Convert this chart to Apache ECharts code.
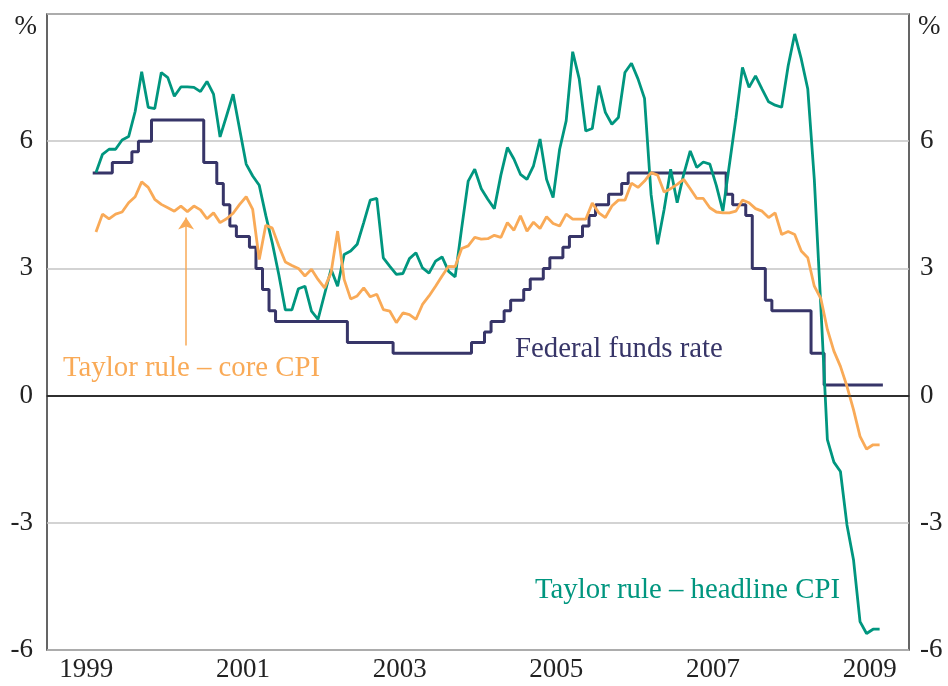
<!DOCTYPE html>
<html>
<head>
<meta charset="utf-8">
<script src="https://cdn.jsdelivr.net/npm/echarts@6/dist/echarts.min.js"></script>
<style>
  html, body { margin: 0; padding: 0; background: #fff; }
  #chart { width: 948px; height: 686px; }
</style>
</head>
<body>
<div id="chart"></div>
<script>
// months are counted from January 1999; the series start in August 1999
var firstMonth = 7;
var years = ['1999', '2000', '2001', '2002', '2003', '2004', '2005', '2006', '2007', '2008', '2009'];

// Taylor rule - headline CPI, monthly, Aug 1999 - Aug 2009
var headline = [
  5.26, 5.69, 5.81, 5.81, 6.03,
  6.11, 6.70, 7.64, 6.80, 6.77, 7.62, 7.50, 7.06, 7.28, 7.28, 7.27, 7.17,
  7.41, 7.11, 6.10, 6.60, 7.11, 6.28, 5.46, 5.18, 4.96, 4.25, 3.60, 2.85,
  2.02, 2.02, 2.52, 2.58, 1.99, 1.80, 2.39, 2.98, 2.58, 3.33, 3.41, 3.57,
  4.08, 4.61, 4.65, 3.25, 3.05, 2.86, 2.88, 3.23, 3.37, 3.01, 2.89, 3.17,
  3.27, 2.93, 2.80, 3.95, 5.06, 5.34, 4.88, 4.63, 4.41, 5.20, 5.85, 5.58,
  5.22, 5.10, 5.42, 6.05, 5.10, 4.67, 5.81, 6.48, 8.11, 7.47, 6.24, 6.30,
  7.31, 6.68, 6.40, 6.56, 7.62, 7.84, 7.47, 7.01, 4.75, 3.57, 4.39, 5.34,
  4.55, 5.22, 5.77, 5.38, 5.51, 5.46, 4.95, 4.35, 5.45, 6.55, 7.74, 7.27,
  7.54, 7.23, 6.93, 6.85, 6.80, 7.78, 8.53, 7.94, 7.23, 5.10, 2.10, -1.04,
  -1.57, -1.79, -3.05, -3.87, -5.33, -5.61, -5.51, -5.51
];

// Taylor rule - core CPI
var core = [
  3.86, 4.28, 4.17, 4.28, 4.33,
  4.55, 4.69, 5.04, 4.91, 4.63, 4.51, 4.43, 4.35, 4.47, 4.34, 4.47, 4.38,
  4.17, 4.31, 4.08, 4.17, 4.30, 4.51, 4.69, 4.39, 3.21, 4.02, 3.95, 3.53,
  3.15, 3.07, 3.00, 2.82, 2.98, 2.74, 2.54, 2.90, 3.88, 2.74, 2.28, 2.35,
  2.54, 2.33, 2.39, 2.03, 1.99, 1.72, 1.95, 1.91, 1.80, 2.15, 2.35, 2.58,
  2.82, 3.05, 3.04, 3.47, 3.53, 3.73, 3.69, 3.70, 3.78, 3.73, 4.08, 3.90,
  4.24, 3.88, 4.09, 3.94, 4.22, 4.06, 4.00, 4.28, 4.16, 4.16, 4.16, 4.54,
  4.31, 4.20, 4.47, 4.61, 4.61, 5.01, 4.91, 5.06, 5.26, 5.20, 4.80, 4.88,
  4.98, 5.10, 4.88, 4.65, 4.65, 4.43, 4.33, 4.31, 4.31, 4.35, 4.61, 4.55,
  4.41, 4.35, 4.20, 4.31, 3.80, 3.87, 3.80, 3.41, 3.25, 2.58, 2.29, 1.56,
  1.05, 0.69, 0.22, -0.33, -0.96, -1.26, -1.16, -1.16
];

// Federal funds target rate, end of month
var fedFunds = [
  5.25, 5.25, 5.25, 5.5, 5.5,
  5.5, 5.75, 6.0, 6.0, 6.5, 6.5, 6.5, 6.5, 6.5, 6.5, 6.5, 6.5,
  5.5, 5.5, 5.0, 4.5, 4.0, 3.75, 3.75, 3.5, 3.0, 2.5, 2.0, 1.75,
  1.75, 1.75, 1.75, 1.75, 1.75, 1.75, 1.75, 1.75, 1.75, 1.75, 1.25, 1.25,
  1.25, 1.25, 1.25, 1.25, 1.25, 1.0, 1.0, 1.0, 1.0, 1.0, 1.0, 1.0,
  1.0, 1.0, 1.0, 1.0, 1.0, 1.25, 1.25, 1.5, 1.75, 1.75, 2.0, 2.25,
  2.25, 2.5, 2.75, 2.75, 3.0, 3.25, 3.25, 3.5, 3.75, 3.75, 4.0, 4.25,
  4.5, 4.5, 4.75, 4.75, 5.0, 5.25, 5.25, 5.25, 5.25, 5.25, 5.25, 5.25,
  5.25, 5.25, 5.25, 5.25, 5.25, 5.25, 5.25, 5.25, 4.75, 4.5, 4.5, 4.25,
  3.0, 3.0, 2.25, 2.0, 2.0, 2.0, 2.0, 2.0, 2.0, 1.0, 1.0, 0.25,
  0.25, 0.25, 0.25, 0.25, 0.25, 0.25, 0.25, 0.25
];

var yTicks = [-6, -3, 0, 3, 6, 9];

var SERIF = '"Liberation Serif", "DejaVu Serif", serif';
var TEAL = '#00967f';
var ORANGE = '#f9aa57';
var NAVY = '#373568';

function midMonth(arr) {
  return arr.map(function (v, i) { return [firstMonth + i + 0.5, v]; });
}
var fedData = fedFunds.map(function (v, i) { return [firstMonth + i, v]; });
fedData.push([firstMonth + fedFunds.length, fedFunds[fedFunds.length - 1]]);

var myChart = echarts.init(document.getElementById('chart'));

var yLabel = {
  fontFamily: SERIF, fontSize: 27, color: '#222',
  formatter: function (v) { return v === yTicks[yTicks.length - 1] ? '' : String(v); }
};

var option = {
  backgroundColor: '#fff',
  animation: false,
  grid: { left: 47, right: 39, top: 14, bottom: 36, show: true, borderColor: '#333', borderWidth: 1.5 },
  xAxis: [
    {
      type: 'category', data: years, boundaryGap: true,
      axisLine: { lineStyle: { color: '#333', width: 1.5 } },
      axisTick: { inside: true, length: 12, interval: 0, lineStyle: { color: '#333', width: 1.2 } },
      axisLabel: { interval: 1, fontFamily: SERIF, fontSize: 27, color: '#222', margin: 6 },
      splitLine: { show: false }
    },
    { type: 'value', min: 0, max: years.length * 12, show: false }
  ],
  yAxis: [
    {
      type: 'value', min: yTicks[0], max: yTicks[yTicks.length - 1], interval: 3,
      axisLine: { show: false }, axisTick: { show: false },
      axisLabel: Object.assign({ margin: 14 }, yLabel),
      splitLine: { lineStyle: { color: '#c4c4c4', width: 1.5 } }
    },
    {
      type: 'value', min: yTicks[0], max: yTicks[yTicks.length - 1], interval: 3,
      position: 'right',
      axisLine: { show: false }, axisTick: { show: false },
      axisLabel: Object.assign({ margin: 11 }, yLabel),
      splitLine: { show: false }
    }
  ],
  graphic: [
    { type: 'text', x: 37, y: 27, style: { text: '%', font: '27px ' + SERIF, fill: '#222', textAlign: 'right', textVerticalAlign: 'middle' } },
    { type: 'text', x: 918, y: 27, style: { text: '%', font: '27px ' + SERIF, fill: '#222', textAlign: 'left', textVerticalAlign: 'middle' } },
    { type: 'text', x: 63, y: 368, style: { text: 'Taylor rule \u2013 core CPI', font: '28.8px ' + SERIF, fill: ORANGE, textVerticalAlign: 'middle' } },
    { type: 'text', x: 515, y: 349, style: { text: 'Federal funds rate', font: '28.8px ' + SERIF, fill: NAVY, textVerticalAlign: 'middle' } },
    { type: 'text', x: 535, y: 590, style: { text: 'Taylor rule \u2013 headline CPI', font: '28.8px ' + SERIF, fill: TEAL, textVerticalAlign: 'middle' } }
  ],
  series: [
    {
      name: 'Federal funds rate', type: 'line', step: 'end',
      xAxisIndex: 1, yAxisIndex: 0,
      data: fedData, symbol: 'none',
      lineStyle: { color: NAVY, width: 3 },
      markLine: {
        silent: true, symbol: 'none', label: { show: false },
        lineStyle: { color: '#222', width: 1.5, type: 'solid' },
        data: [{ yAxis: 0 }]
      }
    },
    {
      name: 'Taylor rule - headline CPI', type: 'line',
      xAxisIndex: 1, yAxisIndex: 0,
      data: midMonth(headline), symbol: 'none',
      lineStyle: { color: TEAL, width: 2.8 }
    },
    {
      name: 'Taylor rule - core CPI', type: 'line',
      xAxisIndex: 1, yAxisIndex: 0,
      data: midMonth(core), symbol: 'none',
      lineStyle: { color: ORANGE, width: 2.8 },
      markLine: {
        silent: true, symbol: ['none', 'arrow'], symbolSize: [12, 12],
        label: { show: false },
        lineStyle: { color: ORANGE, width: 1.5, type: 'solid' },
        data: [[{ coord: [21.3, 1.18] }, { coord: [21.3, 4.2] }]]
      }
    }
  ]
};

myChart.setOption(option, true);
</script>
</body>
</html>
